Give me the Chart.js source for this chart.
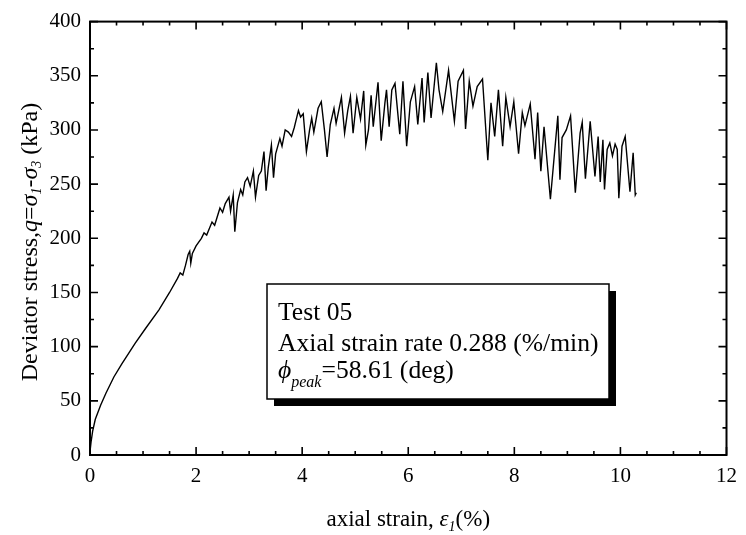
<!DOCTYPE html>
<html><head><meta charset="utf-8">
<script src="https://cdn.jsdelivr.net/npm/chart.js@4.4.1/dist/chart.umd.min.js"></script>
<style>html,body{margin:0;padding:0;background:#fff;}#wrap{width:746px;height:535px;}</style>
</head><body><div id="wrap"><canvas id="c" width="746" height="535"></canvas></div>
<script>
// ---- data ----
const strain = [0.0,0.02,0.05,0.1,0.2,0.3,0.45,0.6,0.85,1.05,1.3,1.5,1.65,1.7,1.75,1.8,1.85,1.88,1.9,1.93,2.0,2.1,2.15,2.2,2.3,2.35,2.45,2.5,2.55,2.62,2.65,2.7,2.73,2.78,2.84,2.88,2.92,2.97,3.02,3.08,3.12,3.18,3.23,3.28,3.32,3.36,3.42,3.46,3.5,3.58,3.62,3.68,3.74,3.8,3.85,3.93,3.97,4.02,4.08,4.14,4.18,4.22,4.3,4.36,4.42,4.47,4.53,4.6,4.64,4.74,4.8,4.86,4.91,4.96,5.03,5.1,5.16,5.2,5.25,5.3,5.34,5.43,5.49,5.56,5.59,5.64,5.69,5.75,5.84,5.9,5.97,6.04,6.12,6.18,6.26,6.3,6.37,6.43,6.53,6.58,6.65,6.76,6.87,6.94,7.04,7.08,7.15,7.22,7.3,7.4,7.5,7.56,7.63,7.7,7.78,7.84,7.92,7.99,8.08,8.15,8.2,8.3,8.39,8.44,8.5,8.56,8.68,8.82,8.86,8.9,8.98,9.06,9.15,9.24,9.28,9.34,9.43,9.52,9.58,9.62,9.67,9.7,9.75,9.8,9.85,9.9,9.94,9.97,10.03,10.09,10.18,10.24,10.28,10.3];
const stress = [3,12,22,33,46,57,72,84,103,117,134,150,163,168,166,175,185,188,177,186,193,200,205,203,215,212,228,224,232,238,225,240,206,233,245,240,252,256,248,262,238,258,262,280,244,265,286,256,278,292,285,300,298,294,302,318,312,315,280,300,311,298,320,326,300,275,305,320,306,330,297,318,331,297,330,310,336,286,300,332,303,344,290,325,337,303,337,343,296,345,285,326,340,305,348,307,353,311,362,337,317,355,308,345,355,301,345,322,340,347,272,325,294,337,285,330,303,326,278,316,304,324,273,316,262,303,236,313,254,293,300,313,242,297,307,255,308,257,294,252,291,245,282,288,276,287,282,237,285,294,243,279,240,242];
const xTickValues = [0,2,4,6,8,10,12];
const yTickValues = [0,50,100,150,200,250,300,350,400];
const legendLines = ['Test 05', 'Axial strain rate 0.288 (%/min)'];
const phiSymbol = '\u03D5';
const phiSub = 'peak';
const phiValue = '=58.61 (deg)';

const SERIF = "'Liberation Serif','Times New Roman',serif";

function drawRich(ctx, segs, x, y, align) {
  let total = 0;
  segs.forEach(s => { ctx.font = (s.italic ? 'italic ' : '') + s.size + 'px ' + SERIF; s.w = ctx.measureText(s.t).width; total += s.w; });
  let cx = align === 'center' ? x - total / 2 : x;
  segs.forEach(s => {
    ctx.font = (s.italic ? 'italic ' : '') + s.size + 'px ' + SERIF;
    ctx.fillText(s.t, cx, y + (s.dy || 0));
    cx += s.w;
  });
}

const framePlugin = {
  id: 'frame',
  afterDatasetsDraw(chart) {
    const {ctx, chartArea: a, scales: {x, y}} = chart;
    ctx.save();
    ctx.strokeStyle = '#000';
    ctx.lineWidth = 2;
    ctx.strokeRect(a.left, a.top, a.right - a.left, a.bottom - a.top);
    ctx.lineWidth = 1.6;
    ctx.beginPath();
    for (let v = 0; v <= 12.001; v += 0.5) {
      const px = x.getPixelForValue(v);
      const len = (Math.abs(v / 2 - Math.round(v / 2)) < 1e-6) ? 8 : 4;
      ctx.moveTo(px, a.bottom); ctx.lineTo(px, a.bottom - len);
      ctx.moveTo(px, a.top); ctx.lineTo(px, a.top + len);
    }
    for (let v = 0; v <= 400.001; v += 25) {
      const py = y.getPixelForValue(v);
      const len = (v % 50 === 0) ? 8 : 4;
      ctx.moveTo(a.left, py); ctx.lineTo(a.left + len, py);
      ctx.moveTo(a.right, py); ctx.lineTo(a.right - len, py);
    }
    ctx.stroke();
    ctx.restore();
  },
  afterDraw(chart) {
    const {ctx, chartArea: a} = chart;
    ctx.save();
    ctx.fillStyle = '#000';
    ctx.textBaseline = 'alphabetic';
    drawRich(ctx, [
      {t: 'axial strain, ', size: 23},
      {t: '\u03B5', size: 23, italic: true},
      {t: '1', size: 14, italic: true, dy: 5},
      {t: '(%)', size: 23}
    ], (a.left + a.right) / 2, 526, 'center');
    ctx.translate(31, 242);
    ctx.rotate(-Math.PI / 2);
    ctx.textBaseline = 'middle';
    drawRich(ctx, [
      {t: 'Deviator stress,', size: 24},
      {t: 'q', size: 24, italic: true},
      {t: '=', size: 24},
      {t: '\u03C3', size: 24, italic: true},
      {t: '1', size: 14, italic: true, dy: 6},
      {t: '-', size: 24},
      {t: '\u03C3', size: 24, italic: true},
      {t: '3', size: 14, italic: true, dy: 6},
      {t: ' (kPa)', size: 24}
    ], 0, 0, 'center');
    ctx.restore();

    ctx.save();
    const bx = 267, by = 284, bw = 342, bh = 115, sh = 7;
    ctx.fillStyle = '#000';
    ctx.fillRect(bx + bw, by + sh, sh, bh);
    ctx.fillRect(bx + sh, by + bh, bw, sh);
    ctx.fillStyle = '#fff';
    ctx.fillRect(bx, by, bw, bh);
    ctx.strokeStyle = '#000';
    ctx.lineWidth = 1.5;
    ctx.strokeRect(bx, by, bw, bh);
    ctx.fillStyle = '#000';
    ctx.textBaseline = 'alphabetic';
    ctx.font = '25.6px ' + SERIF;
    ctx.fillText(legendLines[0], 278, 320);
    ctx.fillText(legendLines[1], 278, 351);
    drawRich(ctx, [
      {t: phiSymbol, size: 25.6, italic: true},
      {t: phiSub, size: 16, italic: true, dy: 9},
      {t: phiValue, size: 25.6}
    ], 278, 378, 'left');
    ctx.restore();
  }
};

const points = strain.map((v, i) => ({x: v, y: stress[i]}));

new Chart(document.getElementById('c'), {
  type: 'scatter',
  data: {datasets: [{
    data: points, showLine: true, borderColor: '#000', borderWidth: 1.4,
    pointRadius: 0, tension: 0, fill: false
  }]},
  options: {
    responsive: false, animation: false, devicePixelRatio: 1,
    layout: {padding: {top: 15, right: 17, left: 0, bottom: 0}},
    plugins: {legend: {display: false}, tooltip: {enabled: false}, title: {display: false}},
    scales: {
      x: {
        type: 'linear', min: 0, max: 12,
        afterBuildTicks: s => { s.ticks = xTickValues.map(v => ({value: v})); },
        afterFit: s => { s.height = 80; },
        grid: {display: false, drawTicks: false}, border: {display: false},
        ticks: {color: '#000', padding: 9, maxRotation: 0, font: {family: SERIF, size: 21}}
      },
      y: {
        type: 'linear', min: 0, max: 400,
        afterBuildTicks: s => { s.ticks = yTickValues.map(v => ({value: v})); },
        afterFit: s => { s.width = 90; },
        grid: {display: false, drawTicks: false}, border: {display: false},
        ticks: {color: '#000', padding: 9, font: {family: SERIF, size: 21}}
      }
    }
  },
  plugins: [framePlugin]
});
</script>
</body></html>
